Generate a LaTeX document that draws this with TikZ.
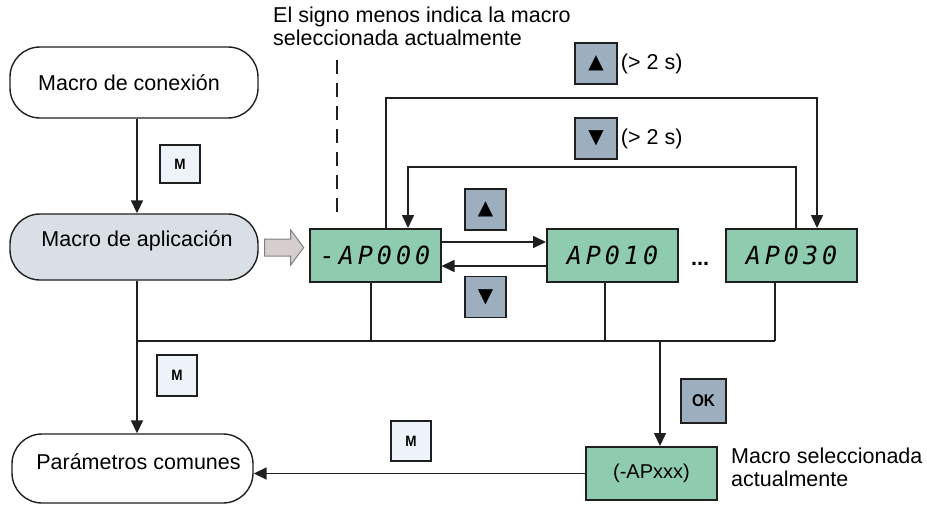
\documentclass[tikz,border=0pt]{standalone}
\usepackage{fontspec}
\setmainfont{Liberation Sans}
\newfontfamily\segfont[LetterSpace=16]{DejaVu Sans Mono}
\newfontfamily\symfont{DejaVu Sans}
\newfontfamily\btnfont[FakeStretch=0.9]{Liberation Sans}
\usetikzlibrary{arrows.meta,calc}
\definecolor{dispgreen}{HTML}{8FCBAF}
\definecolor{graybtn}{HTML}{9DAFBE}
\definecolor{lightbtn}{HTML}{EDF3F8}
\definecolor{aplicfill}{HTML}{D9DFE4}
\definecolor{arrowfill}{HTML}{D6CDCD}
\definecolor{arrowedge}{HTML}{808080}
\definecolor{linecol}{HTML}{1F1F1F}
\begin{document}
\begin{tikzpicture}[x=1pt,y=-1pt,font=\fontsize{21.5}{23}\selectfont,
  pill/.style={draw=linecol, line width=1.4pt, rounded corners=30pt, minimum width=248pt, minimum height=71pt, inner sep=0pt},
  disp/.style={draw=linecol, fill=dispgreen, line width=2pt, minimum width=131pt, minimum height=53pt, inner sep=0pt, font=\segfont\itshape\fontsize{25}{25}\selectfont},
  btn/.style={draw=linecol, line width=1.4pt, minimum width=41pt, minimum height=41pt, inner sep=0pt},
  mbtn/.style={btn, fill=lightbtn, font=\btnfont\bfseries\fontsize{15}{15}\selectfont},
  kbtn/.style={btn, fill=graybtn, font=\symfont\fontsize{20}{20}\selectfont},
  conn/.style={line width=1.6pt, draw=linecol},
  arr/.style={conn, -{Triangle[length=13pt,width=12pt]}},
  lbl/.style={inner sep=0pt}]
\useasboundingbox (0,0) rectangle (927,506);

% main states
\node[pill] (conex) at (134,82.5) {};
\node[lbl] (conext) at ([xshift=-5pt]conex.center) {Macro de conexión};
\node[pill, fill=aplicfill, minimum height=66pt] (aplic) at (134,247) {};
\node[lbl] (aplict) at ([xshift=3pt,yshift=6pt]aplic.center) {Macro de aplicación};
\node[pill, minimum width=241pt, minimum height=69pt] (param) at (132.5,468.5) {};
\node[lbl] (paramt) at ([xshift=6pt,yshift=7pt]param.center) {Parámetros comunes};

% displays
\node[disp] (d0) at (375,255.5) {-AP000};
\node[disp] (d1) at (612.5,255.5) {AP010};
\node[disp] (d3) at (791.5,255.5) {AP030};
\node[disp, font=\fontsize{20}{20}\selectfont] (sel) at (651.5,473.5) {(-APxxx)};

% buttons
\node[mbtn, minimum width=40pt, minimum height=38pt] (m1) at (180,164) {M};
\node[mbtn, minimum width=40pt] (m2) at (177,375.5) {M};
\node[mbtn, minimum width=40pt, minimum height=40pt] (m3) at (411,441) {M};
\node[btn, fill=graybtn, font=\btnfont\bfseries\fontsize{17}{17}\selectfont, minimum width=45pt, minimum height=44pt] (ok) at (703.5,401) {OK};
\node[kbtn] (upm) at (485.5,209.5) {▲};
\node[kbtn] (dnm) at (485.5,297) {▼};
\node[kbtn, minimum width=42pt] (upt) at (596,63.5) {▲};
\node[kbtn, minimum width=42pt] (dnt) at (596,138.5) {▼};
\node[lbl, anchor=west] (uptl) at ([xshift=3pt]upt.east) {(> 2 s)};
\node[lbl, anchor=west] (dntl) at ([xshift=3pt]dnt.east) {(> 2 s)};

% texts
\node[lbl, anchor=base, font=\bfseries\fontsize{21.5}{23}\selectfont] (dots) at (700,265) {...};
\node[lbl, anchor=north west, align=left] (note) at (273,6.5) {El signo menos indica la macro\\seleccionada actualmente};
\node[lbl, anchor=north west, align=left] (selnote) at (731,447.5) {Macro seleccionada\\actualmente};

% gray arrow between the application macro and the first display
\coordinate (ga) at ([xshift=6pt]aplic.east);
\draw[draw=arrowedge, fill=arrowfill, line width=1pt, line join=miter]
  (ga) ++(0,-8) -- ++(26,0) -- ++(0,-9) -- ++(13,17.5) -- ++(-13,17.5) -- ++(0,-9) -- ++(-26,0) -- cycle;

% dashed pointer
\coordinate (dtop) at (337,60);
\coordinate (dbot) at (337,220);
\draw[conn, dash pattern=on 14pt off 9pt] (dtop) -- (dbot);

% connectors
\draw[arr] ([xshift=3pt]conex.south) -- ([xshift=3pt]aplic.north);
\coordinate (b0) at (137,341);
\coordinate (b3) at (775,341);
\draw[arr] (b0 |- aplic.south) -- (b0 |- param.north);
\draw[conn] (b0) -- (b3);
\coordinate (v0) at ([xshift=-4pt]d0.south);
\coordinate (v1) at ([xshift=-7.5pt]d1.south);
\coordinate (v3) at ([xshift=-16.5pt]d3.south);
\coordinate (vs) at ([xshift=8.5pt]sel.north);
\draw[conn] (v0) -- (v0 |- b0);
\draw[conn] (v1) -- (v1 |- b0);
\draw[conn] (v3) -- (b3);
\draw[arr] (vs |- b0) -- (vs);
\draw[arr] (sel.west) -- (sel.west -| param.east);

\draw[arr] ([yshift=13.5pt]d0.east) -- ([yshift=13.5pt]d1.west);
\draw[arr] ([yshift=-10.5pt]d1.west) -- ([yshift=-10.5pt]d0.east);

\coordinate (u0) at ([xshift=11pt]d0.north);
\coordinate (u3) at ([xshift=25.5pt]d3.north);
\coordinate (uy) at (0,98);
\draw[arr] (u0) -- (u0 |- uy) -- (u3 |- uy) -- (u3);
\coordinate (w3) at ([xshift=4.5pt]d3.north);
\coordinate (w0) at ([xshift=33pt]d0.north);
\coordinate (wy) at (0,167);
\draw[arr] (w3) -- (w3 |- wy) -- (w0 |- wy) -- (w0);
\end{tikzpicture}
\end{document}
